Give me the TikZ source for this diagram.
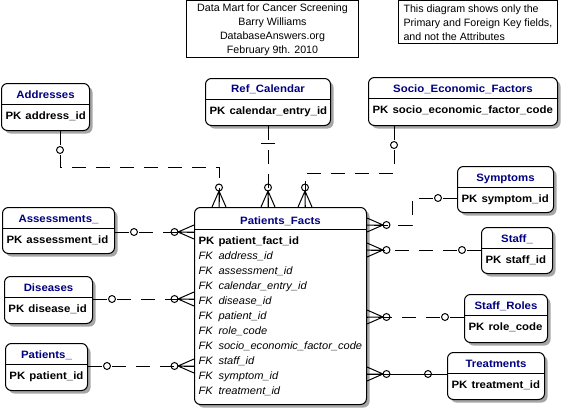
\documentclass[tikz,border=0pt]{standalone}
\usepackage{fontspec}
\setmainfont[BoldFeatures={FakeStretch=1.07},ItalicFeatures={FakeStretch=1.04}]{Liberation Sans}
\usetikzlibrary{calc,shadows}
\definecolor{entblue}{RGB}{0,0,128}

\tikzset{
  entbox/.style={draw, fill=white, rounded corners=4.5pt, inner sep=0pt, anchor=north west,
    drop shadow={shadow xshift=2.25pt, shadow yshift=-2.25pt, fill=black!35, opacity=1}},
  enttitle/.style={anchor=base, inner sep=0pt, text=entblue, font=\fontsize{8pt}{9.6pt}\selectfont\bfseries},
  entkey/.style={anchor=base west, inner sep=0pt, font=\fontsize{8pt}{9.6pt}\selectfont},
  notebox/.style={draw, anchor=north west, inner sep=0pt, font=\fontsize{8pt}{10.5pt}\selectfont},
  rel/.style={dash pattern=on 10.5pt off 7.5pt},
  idrel/.style={solid},
  crowzero/.pic={\draw (0,-7) -- (16,0) -- (0,7) (0,0) -- (16,0); \draw (19.5,0) circle (2.6pt);},
  ring/.pic={\draw (19,0) circle (2.6pt);},
  onebar/.pic={\draw (17,-7) -- (17,7);},
}

% name, x, y, width, height, title, key  (all in pixels)
\newcommand{\entity}[7]{%
  \node[entbox, minimum width=#4*0.75pt, minimum height=#5*0.75pt] (#1) at (#2,#3) {};
  \draw ($(#1.north west)+(0,21)$) -- ($(#1.north east)+(0,21)$);
  \node[enttitle] (#1-title) at ($(#1.north)+(0,15)$) {#6};
  \node[entkey] (#1-pk) at ($(#1.north west)+(4,36)$) {\makebox[15pt][l]{\bfseries PK}\bfseries #7};
}

\begin{document}
\begin{tikzpicture}[x=0.75pt, y=-0.75pt, line width=0.75pt]
  \path[fill=white, use as bounding box] (0,0) rectangle (563,410);

  % notes
  \node[notebox, align=center, minimum width=172*0.75pt, minimum height=56.5*0.75pt] (title) at (186,0.5)
    {Data Mart for Cancer Screening\\Barry Williams\\DatabaseAnswers.org\\February 9th. 2010};
  \node[notebox, align=left, inner xsep=3.75pt, minimum height=42.5*0.75pt] (note) at (398,0.5)
    {This diagram shows only the\\Primary and Foreign Key fields,\\and not the Attributes};

  % entities
  \entity{addresses}{1}{83}{88}{47}{Addresses}{address\_id}
  \entity{refcal}{205}{78}{125}{47}{Ref\_Calendar}{calendar\_entry\_id}
  \entity{socio}{368}{77}{189}{48}{Socio\_Economic\_Factors}{socio\_economic\_factor\_code}
  \entity{symptoms}{457}{166}{96}{46}{Symptoms}{symptom\_id}
  \entity{staff}{481}{227}{71}{46}{Staff\_}{staff\_id}
  \entity{roles}{464}{294}{83}{48}{Staff\_Roles}{role\_code}
  \entity{treatments}{447}{352}{97}{47}{Treatments}{treatment\_id}
  \entity{assessments}{2}{207}{112}{46}{Assessments\_}{assessment\_id}
  \entity{diseases}{4}{276}{88}{47}{Diseases}{disease\_id}
  \entity{patients}{5}{343}{82}{47}{Patients\_}{patient\_id}

  % fact table
  \node[entbox, minimum width=172*0.75pt, minimum height=197*0.75pt] (pf) at (194,207) {};
  \draw ($(pf.north west)+(0,22)$) -- ($(pf.north east)+(0,22)$);
  \node[enttitle] (pf-title) at ($(pf.north)+(0,17)$) {Patients\_Facts};
  \node[entkey] (pf-r0) at ($(pf.north west)+(4,37)$) {\makebox[15pt][l]{\bfseries PK}\bfseries patient\_fact\_id};
  \foreach \fk [count=\i] in {address\_id,assessment\_id,calendar\_entry\_id,disease\_id,patient\_id,
      role\_code,socio\_economic\_factor\_code,staff\_id,symptom\_id,treatment\_id}
    \node[entkey] (pf-r\i) at ($(pf.north west)+(4,{37+15*\i})$) {\makebox[15pt][l]{\itshape FK}\itshape \fk};

  % top links
  \coordinate (addr-a) at ($(addresses.south west)+(59,0)$);
  \coordinate (pf-addr) at ($(pf.north west)+(25,0)$);
  \draw[rel] (addr-a) -- ++(0,36) -| (pf-addr);
  \pic[rotate=-90] at (addr-a) {ring};
  \pic[rotate=90] at (pf-addr) {crowzero};

  \coordinate (pf-ref) at (refcal.south |- pf.north);
  \draw[rel] (refcal.south) -- (pf-ref);
  \pic[rotate=-90] at (refcal.south) {onebar};
  \pic[rotate=90] at (pf-ref) {crowzero};

  \coordinate (socio-a) at ($(socio.south west)+(26,0)$);
  \coordinate (pf-socio) at ($(pf.north west)+(111,0)$);
  \draw[rel] (socio-a) -- ++(0,47) -| (pf-socio);
  \pic[rotate=-90] at (socio-a) {ring};
  \pic[rotate=90] at (pf-socio) {crowzero};

  % right links
  \coordinate (symptoms-a) at ($(symptoms.north west)+(0,32)$);
  \coordinate (pf-symptoms) at ($(pf.north east)+(0,18)$);
  \draw[rel] (symptoms-a) -- ++(-45,0) |- (pf-symptoms);
  \pic[rotate=180] at (symptoms-a) {ring};
  \pic at (pf-symptoms) {crowzero};

  \foreach \e/\dy/\ty in {staff/23/rel,roles/23/rel,treatments/22/idrel} {
    \coordinate (\e-a) at ($(\e.north west)+(0,\dy)$);
    \coordinate (pf-\e) at (\e-a -| pf.east);
    \draw[\ty] (\e-a) -- (pf-\e);
    \pic[rotate=180] at (\e-a) {ring};
    \pic at (pf-\e) {crowzero};
  }

  % left links
  \foreach \e/\dy in {assessments/25,diseases/23,patients/23} {
    \coordinate (\e-a) at ($(\e.north east)+(0,\dy)$);
    \coordinate (pf-\e) at (\e-a -| pf.west);
    \draw[rel] (\e-a) -- (pf-\e);
    \pic at (\e-a) {ring};
    \pic[rotate=180] at (pf-\e) {crowzero};
  }
\end{tikzpicture}
\end{document}
